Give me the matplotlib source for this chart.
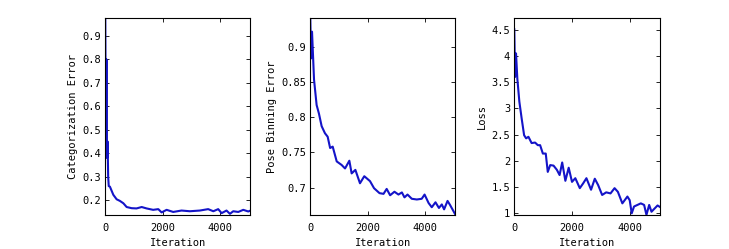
import matplotlib
matplotlib.use("Agg")
import matplotlib.pyplot as plt

# Panel 1: categorization error
cat_iter = [0, 20, 40, 60, 80, 100, 120, 160, 280, 395, 510, 630, 745, 920, 1090, 1270,
            1440, 1670, 1850, 1965, 2140, 2370, 2660, 2950, 3300, 3590, 3770, 3940,
            4060, 4230, 4350, 4465, 4640, 4815, 4990, 5050]
cat_err = [0.975, 0.40, 0.80, 0.38, 0.45, 0.30, 0.26, 0.258, 0.223, 0.204, 0.197, 0.187,
           0.171, 0.166, 0.165, 0.171, 0.165, 0.159, 0.162, 0.148, 0.159, 0.150, 0.156,
           0.153, 0.156, 0.162, 0.153, 0.162, 0.145, 0.156, 0.142, 0.153, 0.150, 0.159,
           0.152, 0.155]

# Panel 2: pose binning error
pose_iter = [0, 25, 60, 130, 220, 300, 395, 510, 605, 690, 780, 920, 1090, 1210, 1360,
             1440, 1570, 1730, 1880, 2080, 2220, 2410, 2550, 2660, 2780, 2930, 3070,
             3190, 3280, 3385, 3535, 3710, 3880, 3980, 4120, 4230, 4360, 4480, 4580,
             4660, 4780, 4870, 5060]
pose_err = [0.940, 0.883, 0.921, 0.853, 0.817, 0.805, 0.787, 0.777, 0.772, 0.756, 0.758,
            0.737, 0.732, 0.727, 0.738, 0.720, 0.725, 0.706, 0.716, 0.709, 0.699, 0.692,
            0.691, 0.698, 0.689, 0.694, 0.690, 0.693, 0.686, 0.690, 0.684, 0.683, 0.684,
            0.690, 0.678, 0.672, 0.679, 0.671, 0.676, 0.669, 0.681, 0.675, 0.661]

# Panel 3: loss
loss_iter = [0, 25, 60, 105, 175, 255, 340, 410, 490, 600, 720, 815, 895, 990, 1090, 1160,
             1245, 1360, 1475, 1570, 1660, 1770, 1885, 2000, 2115, 2270, 2385, 2500, 2660,
             2790, 2905, 3045, 3185, 3335, 3475, 3590, 3745, 3920, 4000, 4070, 4150, 4385,
             4500, 4580, 4675, 4755, 4965, 5080]
loss = [4.51, 3.60, 4.05, 3.57, 3.13, 2.81, 2.49, 2.43, 2.46, 2.34, 2.35, 2.30, 2.30, 2.14,
        2.14, 1.79, 1.92, 1.91, 1.83, 1.73, 1.97, 1.62, 1.87, 1.60, 1.67, 1.48, 1.57, 1.67,
        1.45, 1.66, 1.54, 1.35, 1.40, 1.38, 1.48, 1.41, 1.19, 1.32, 1.25, 1.00, 1.13, 1.19,
        1.16, 0.97, 1.16, 1.03, 1.15, 1.11]

panels = [
    (cat_iter, cat_err, "Categorization Error", (0.137, 0.975),
     [0.2, 0.3, 0.4, 0.5, 0.6, 0.7, 0.8, 0.9], ["0.2", "0.3", "0.4", "0.5", "0.6", "0.7", "0.8", "0.9"]),
    (pose_iter, pose_err, "Pose Binning Error", (0.661, 0.940),
     [0.7, 0.75, 0.8, 0.85, 0.9], ["0.7", "0.75", "0.8", "0.85", "0.9"]),
    (loss_iter, loss, "Loss", (0.968, 4.72),
     [1, 1.5, 2, 2.5, 3, 3.5, 4, 4.5], ["1", "1.5", "2", "2.5", "3", "3.5", "4", "4.5"]),
]
x_ticks = [0, 2000, 4000]
x_ticklabels = ["0", "2000", "4000"]

plt.rcParams['font.family'] = ['DejaVu Sans Mono']
fig = plt.figure(figsize=(7.29, 2.49), dpi=100)
lefts = [105.3, 310.3, 514.3]
widths = [144.7, 145.0, 145.7]
bottom = 1 - 215 / 249
height = (215 - 18.3) / 249

for (xs, ys, lab, ylim, yt, ytl), l, w in zip(panels, lefts, widths):
    ax = fig.add_axes([l / 729, bottom, w / 729, height])
    ax.plot(xs, ys, color='#1414c8', lw=1.5)
    ax.set_xlim(0, 5050)
    ax.set_ylim(*ylim)
    ax.set_xticks(x_ticks)
    ax.set_xticklabels(x_ticklabels)
    ax.set_yticks(yt)
    ax.set_yticklabels(ytl)
    ax.tick_params(direction='in', length=3, width=0.6, labelsize=7.5, top=True, right=True, pad=3)
    ax.tick_params(axis='x', pad=6)
    for s in ax.spines.values():
        s.set_linewidth(0.8)
    ax.set_xlabel("Iteration", fontsize=7.5, labelpad=3)
    ax.set_ylabel(lab, fontsize=7.5, labelpad=3)

fig.savefig("out.png", dpi=100)
